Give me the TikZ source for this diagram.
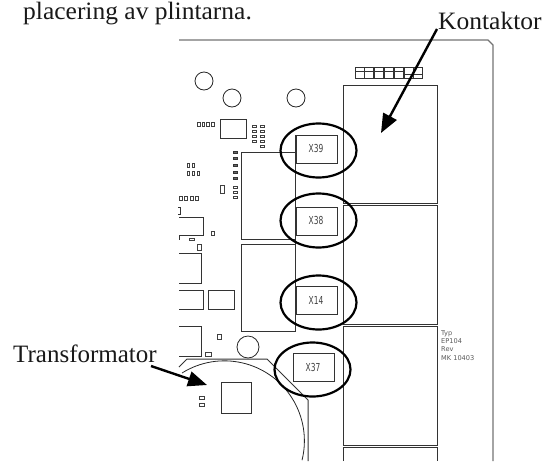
\documentclass[tikz,border=0pt]{standalone}
\usepackage{fontspec}
\usepackage{graphicx}
\setmainfont{Liberation Serif}
\newfontfamily\pcbfont{DejaVu Sans}
\usetikzlibrary{arrows.meta}
\tikzset{
  board/.style={draw=black!55,line width=1.4pt},
  part/.style={draw=black!80,line width=1pt},
  thinpart/.style={draw=black!85,line width=0.8pt},
  padopen/.style={draw=black!75,line width=0.9pt},
  padfull/.style={draw=black!80,fill=black!60,line width=0.8pt},
  ring/.style={draw=black,line width=2.2pt},
  callout/.style={draw=black,line width=2.4pt,-{Triangle[length=19pt,width=15pt]}},
  biglabel/.style={font=\fontsize{25}{30}\selectfont,text=black!90,anchor=base west,inner sep=0pt},
  xlabel/.style={font=\pcbfont\fontsize{11}{12}\selectfont,text=black!75,inner sep=0pt},
  infolabel/.style={font=\pcbfont\fontsize{6.6}{7}\selectfont,text=black!65,anchor=base west,inner sep=0pt},
}
\newcommand{\xlab}[1]{\scalebox{.68}[1]{#1}}
\begin{document}
\begin{tikzpicture}[x=1pt,y=-1pt]
\useasboundingbox (0,0) rectangle (548,461);
% board outline
\draw[board] (179,40) -- (488,40) -- (493,45) -- (493,461);
% contactor boxes
\draw[part] (343,85) rectangle (437,203);
\draw[part] (343,205) rectangle (437,324);
\draw[part] (343,326) rectangle (437,445);
\draw[part] (343,461) -- (343,447) -- (437,447) -- (437,461);
% top pad row
\foreach \i in {0,...,6} {
  \draw[part,line width=.7pt] ({355+\i*9.8},67) rectangle ({364+\i*9.8},78);
}
\foreach \i in {0,...,4} {
  \draw[part,line width=.7pt] ({355+\i*9.8},71.5) -- ({364+\i*9.8},71.5);
}
\foreach \i in {5,6} {
  \draw[part,line width=.7pt] ({355+\i*9.8},74.5) -- ({364+\i*9.8},74.5);
}
% mounting holes
\draw[thinpart] (204,81) circle[radius=9];
\draw[thinpart] (232,98) circle[radius=9];
\draw[thinpart] (296,98) circle[radius=9];
\draw[thinpart] (248,347) circle[radius=11];
% chips
\draw[part] (220,119) rectangle (246,138);
\draw[part] (241,239) -- (241,152) -- (295,152) -- (295,239) -- cycle;
\draw[part] (241,244) rectangle (295,331);
\draw[part] (295,239) -- (295,244);
\draw[part] (295,135) -- (295,152);
\draw[part] (179,217) -- (203,217) -- (203,235) -- (179,235);
\draw[part] (179,253) -- (201,253) -- (201,283) -- (179,283);
\draw[part] (179,290) -- (203,290) -- (203,309) -- (179,309);
\draw[part] (208,290) rectangle (234,309);
\draw[part] (179,326) -- (201,326) -- (201,356) -- (179,356);
\draw[part] (221,382) rectangle (251,413);
% small pads
\foreach \x in {199,203.5,208,213} \draw[padopen] (\x-1.2,122) rectangle (\x+1.2,126);
\foreach \x in {254,262} \foreach \y in {126,131,136,141} \draw[padopen] (\x-2,\y-1) rectangle (\x+2,\y+1);
\draw[padopen] (260,145) rectangle (264,147);
\foreach \y in {152,158,165,172,178} \draw[padfull] (233,\y-1) rectangle (237,\y+1);
\foreach \y in {187,192,197} \draw[padopen] (233,\y-1) rectangle (237,\y+1);
\foreach \x in {188,193} \draw[padopen] (\x-1,163) rectangle (\x+1,167);
\foreach \x in {188,193,198} \draw[padopen] (\x-1,171) rectangle (\x+1,175);
\draw[padopen] (220.5,185) rectangle (224,193);
\foreach \x in {181,186,192,197} \draw[padopen] (\x-1.2,196) rectangle (\x+1.2,200);
\draw[part] (178,207) -- (180.5,207) -- (180.5,214) -- (178,214);
\draw[padopen] (211.5,231) rectangle (214.5,235);
\draw[part] (179.5,236) -- (179.5,240);
\draw[padopen] (189.5,238) rectangle (194.5,240.5);
\draw[padopen] (197.5,244) rectangle (201,250);
\draw[padopen] (217.5,334) rectangle (221,339.5);
\draw[padopen] (205.5,352.5) rectangle (211,356);
\draw[padopen] (199.5,396.5) rectangle (204.5,399.5);
\draw[padopen] (199.5,403) rectangle (204.5,406);
% transformer outline
\draw[part] (179,367) -- (187,359) -- (267,359) -- (308,400) -- (308,461);
\draw[thinpart] (182,373) arc[start angle=-122,end angle=14,radius=80];
% terminals
\draw[part] (296,135) rectangle (337,163);
\draw[part] (296,207) rectangle (337,235);
\draw[part] (296,286) rectangle (337,314);
\draw[part] (293,353) rectangle (334,381);
\node[xlabel] (x39) at (316,148) {\xlab{X39}};
\node[xlabel] (x38) at (316,220) {\xlab{X38}};
\node[xlabel] (x14) at (316,300) {\xlab{X14}};
\node[xlabel] (x37) at (313,367) {\xlab{X37}};
% rings
\draw[ring] (318.5,150.5) ellipse[x radius=38,y radius=27];
\draw[ring] (318.5,220.5) ellipse[x radius=38,y radius=27];
\draw[ring] (318.5,302.5) ellipse[x radius=38,y radius=27];
\draw[ring] (312.5,369.5) ellipse[x radius=38,y radius=27];
% info text
\node[infolabel] (typ) at (441,335.5) {Typ};
\node[infolabel] (ep) at (441,343) {EP104};
\node[infolabel] (rev) at (441,351.5) {Rev};
\node[infolabel] (mk) at (441,360) {MK 10403};
% labels and arrows
\node[biglabel] (intro) at (23,19.5) {\scalebox{1.02}[1]{placering av plintarna.}};
\node[biglabel] (kont) at (438,29) {\scalebox{1.02}[1]{Kontaktor}};
\node[biglabel] (trafo) at (13,362) {Transformator};
\coordinate (kontstart) at (437,29);
\coordinate (konttip) at (381,133);
\coordinate (trafostart) at (151,366);
\coordinate (trafotip) at (207,385);
\draw[callout] (kontstart) -- (konttip);
\draw[callout] (trafostart) -- (trafotip);
\end{tikzpicture}
\end{document}
